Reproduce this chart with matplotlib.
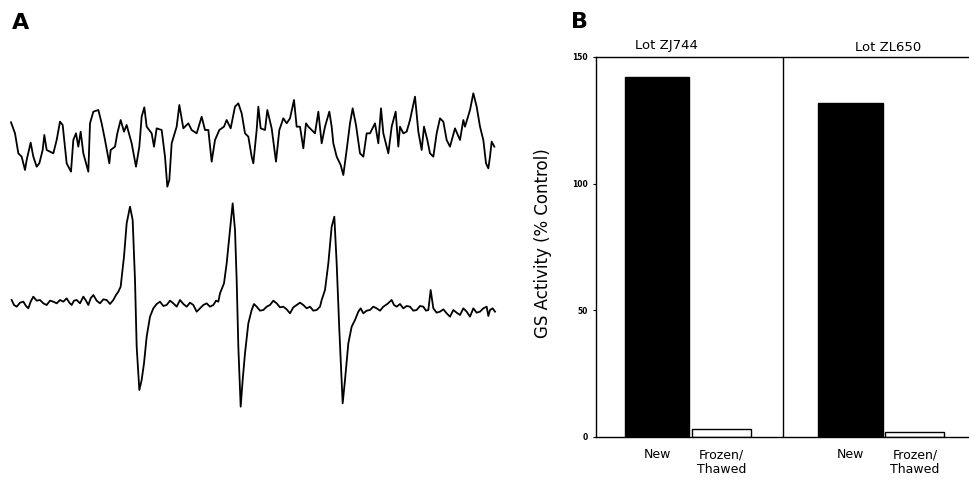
import numpy as np
import matplotlib.pyplot as plt

# panel A traces (x, y in picture units, y grows downward)
top_trace = [(33, 367), (45, 400), (55, 460), (65, 470), (75, 510), (80, 480), (92, 428), (100, 470),
             (110, 500), (118, 490), (128, 450), (133, 405), (140, 450), (160, 460), (170, 420),
             (180, 365), (188, 375), (200, 490), (213, 515), (220, 420), (228, 400), (235, 440),
             (242, 395), (250, 460), (265, 515), (270, 370), (280, 335), (295, 330), (305, 370),
             (315, 420), (328, 490), (332, 450), (345, 440), (352, 400), (362, 360), (372, 395),
             (380, 375), (395, 430), (408, 500), (418, 440), (425, 350), (433, 322), (440, 380),
             (455, 400), (462, 440), (470, 385), (485, 390), (495, 470), (502, 560), (508, 540),
             (515, 430), (530, 380), (538, 315), (550, 385), (565, 370), (575, 390), (590, 400),
             (605, 350), (615, 390), (625, 390), (635, 485), (645, 420), (658, 390), (672, 380),
             (680, 360), (692, 385), (705, 320), (715, 310), (725, 340), (735, 400), (745, 410),
             (755, 470), (760, 490), (770, 390), (775, 320), (782, 385), (795, 390), (802, 330),
             (815, 385), (828, 485), (838, 390), (850, 355), (860, 370), (870, 355), (882, 300),
             (890, 380), (900, 380), (910, 445), (918, 370), (925, 380), (935, 390), (945, 400),
             (955, 335), (965, 430), (975, 380), (988, 335), (995, 380), (1000, 430), (1010, 470),
             (1022, 495), (1030, 525), (1040, 450), (1050, 370), (1058, 325), (1068, 375),
             (1080, 460), (1090, 470), (1100, 400), (1110, 400), (1125, 370), (1135, 430),
             (1143, 325), (1150, 400), (1165, 460), (1175, 380), (1187, 335), (1195, 440),
             (1200, 380), (1210, 400), (1220, 395), (1230, 360), (1245, 290), (1255, 395),
             (1265, 450), (1272, 380), (1282, 420), (1290, 460), (1300, 470), (1310, 400),
             (1320, 355), (1330, 365), (1340, 420), (1350, 440), (1365, 385), (1380, 420),
             (1390, 360), (1395, 380), (1410, 330), (1420, 280), (1430, 320), (1440, 380),
             (1450, 420), (1458, 490), (1465, 505), (1470, 470), (1475, 425), (1483, 440)]

bottom_trace = [(35, 360), (42, 375), (50, 380), (60, 368), (70, 365), (78, 378), (85, 385),
                (92, 365), (100, 350), (110, 362), (120, 360), (130, 370), (140, 375), (150, 362),
                (160, 365), (170, 370), (180, 360), (190, 365), (200, 355), (208, 368), (215, 375),
                (222, 362), (230, 360), (240, 370), (250, 350), (258, 362), (265, 375), (272, 355),
                (280, 345), (290, 362), (300, 370), (310, 358), (320, 360), (330, 372), (340, 360),
                (348, 345), (355, 335), (362, 320), (372, 230), (380, 130), (390, 80), (398, 120),
                (405, 300), (410, 500), (418, 630), (425, 600), (432, 550), (440, 470), (450, 410),
                (460, 385), (470, 372), (480, 365), (490, 378), (500, 375), (510, 362), (520, 370),
                (530, 380), (540, 360), (550, 372), (560, 380), (570, 368), (580, 375), (590, 395),
                (600, 385), (610, 375), (620, 370), (630, 380), (640, 375), (648, 362), (655, 365),
                (660, 340), (672, 310), (680, 250), (690, 150), (698, 70), (705, 150), (710, 300),
                (715, 500), (722, 680), (728, 600), (735, 520), (745, 430), (755, 390), (762, 372),
                (770, 380), (780, 392), (790, 390), (800, 380), (810, 375), (820, 362), (830, 370),
                (840, 382), (850, 380), (860, 388), (870, 400), (880, 382), (890, 375), (900, 368),
                (910, 375), (920, 385), (930, 380), (940, 392), (950, 390), (960, 380), (965, 360),
                (975, 330), (985, 250), (995, 140), (1003, 110), (1010, 250), (1018, 450),
                (1028, 670), (1035, 600), (1045, 490), (1055, 440), (1065, 420), (1075, 395),
                (1082, 385), (1090, 400), (1100, 392), (1110, 390), (1120, 380), (1130, 385),
                (1140, 392), (1150, 380), (1162, 372), (1175, 360), (1182, 375), (1190, 380),
                (1200, 372), (1210, 385), (1220, 378), (1230, 380), (1240, 392), (1250, 390),
                (1260, 378), (1270, 380), (1278, 392), (1285, 390), (1292, 330), (1300, 385),
                (1310, 398), (1320, 395), (1330, 388), (1340, 400), (1350, 410), (1360, 390),
                (1370, 398), (1380, 405), (1390, 385), (1400, 395), (1410, 410), (1420, 385),
                (1430, 398), (1440, 395), (1450, 385), (1460, 380), (1465, 408), (1470, 390),
                (1478, 385), (1485, 395)]

# panel B data
lots = ['Lot ZJ744', 'Lot ZL650']
conditions = ['New', 'Frozen/\nThawed']
new_activity = [142, 132]
frozen_activity = [3, 2]
y_ticks = [0, 50, 100, 150]

fig = plt.figure(figsize=(9.7, 4.79), dpi=100)
W, H = 970, 479

# --- panel A ---
ax_top = fig.add_axes([0, 1 - 200 / H, 500 / W, 200 / H])
tx, ty = zip(*top_trace)
ax_top.plot(tx, ty, color='black', lw=1.3)
ax_top.set_xlim(0, 1500)
ax_top.set_ylim(600, 0)
ax_top.axis('off')

ax_bot = fig.add_axes([0, 1 - 430 / H, 500 / W, 250 / H])
bx, by = zip(*bottom_trace)
ax_bot.plot(bx, by, color='black', lw=1.3)
ax_bot.set_xlim(0, 1500)
ax_bot.set_ylim(750, 0)
ax_bot.axis('off')

fig.text(21 / W, 1 - 23 / H, 'A', fontsize=16, fontweight='bold', ha='center', va='center')
fig.text(580 / W, 1 - 22 / H, 'B', fontsize=16, fontweight='bold', ha='center', va='center')

# --- panel B ---
ax = fig.add_axes([596 / W, 1 - 437 / H, 380 / W, 380 / H])
new_pos = [1, 4]
frozen_pos = [2, 5]
ax.bar(new_pos, new_activity, width=1.0, color='black', edgecolor='black')
ax.bar(frozen_pos, frozen_activity, width=0.92, color='white', edgecolor='black', lw=1)
ax.axvline(2.95, color='black', lw=1)

ax.set_xlim(0.05, 5.95)
ax.set_ylim(0, 150)
ax.set_yticks(y_ticks)
ax.set_yticklabels([str(v) for v in y_ticks], fontsize=5.5, fontweight='bold')
ax.tick_params(axis='y', length=2, width=0.8, pad=4)
ax.set_xticks(new_pos + frozen_pos)
ax.set_xticklabels(conditions[:1] * 2 + conditions[1:] * 2, fontsize=9, va='top')
ax.tick_params(axis='x', length=0, pad=8)
for s in ['left', 'bottom', 'top']:
    ax.spines[s].set_linewidth(1)
ax.spines['right'].set_visible(False)

ax.text(1.15, 154.7, lots[0], fontsize=9.5, ha='center', va='center')
ax.text(4.58, 153.8, lots[1], fontsize=9.5, ha='center', va='center')

fig.text(543 / W, 1 - 243 / H, 'GS Activity (% Control)', fontsize=12, rotation=90,
         ha='center', va='center')

fig.savefig('out.png', dpi=100)
